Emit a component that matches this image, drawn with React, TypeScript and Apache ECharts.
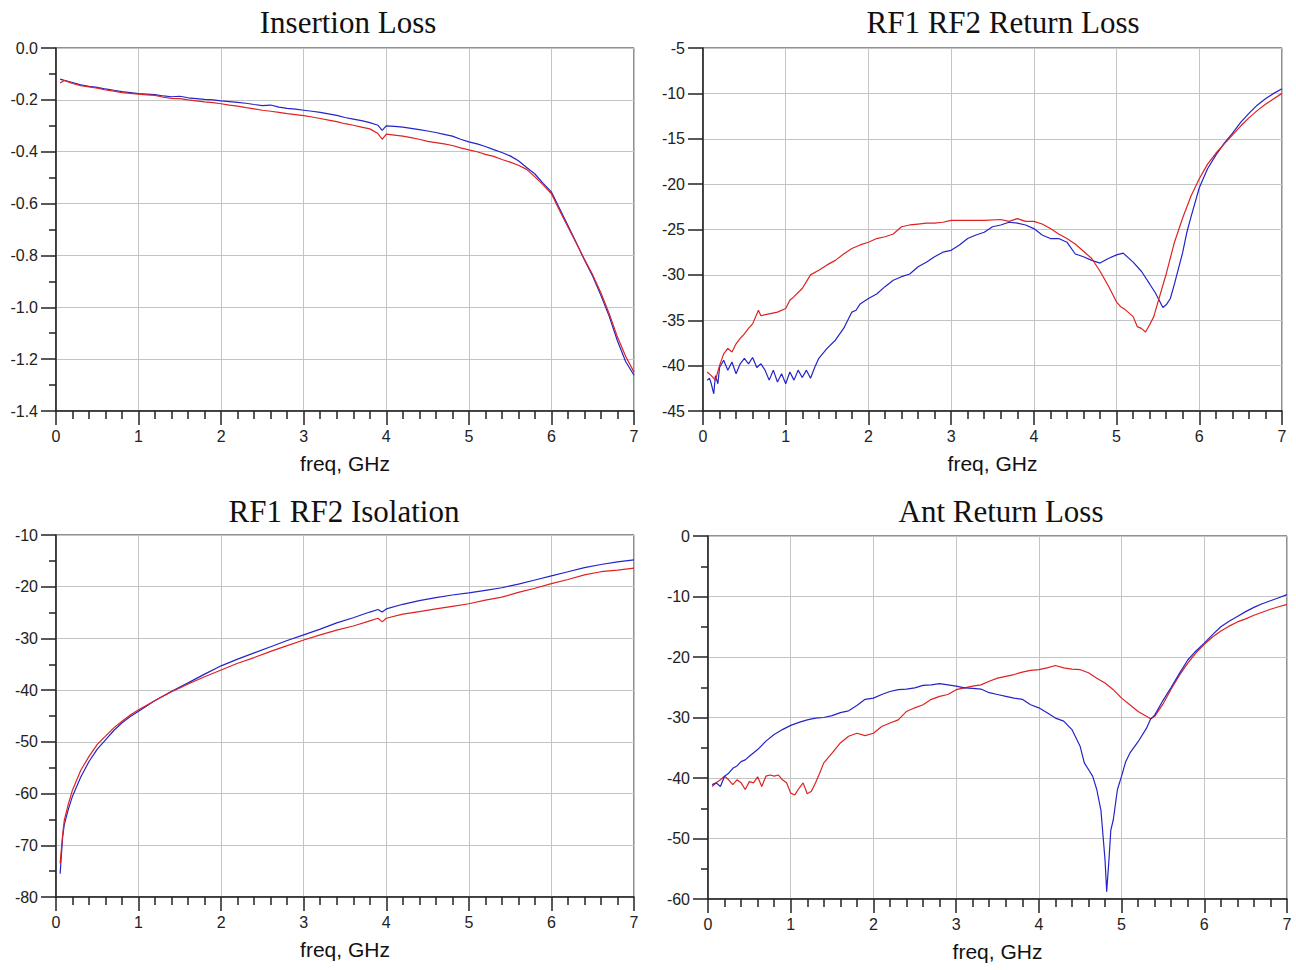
import React, { useEffect, useRef } from "react";
import * as echarts from "echarts";

// ---------- Insertion Loss (dB) ----------
const IL_FREQ = [0.05, 0.1, 0.2, 0.3, 0.4, 0.5, 0.6, 0.7, 0.8, 0.9, 1.0, 1.1, 1.2, 1.3, 1.4, 1.5, 1.6, 1.7, 1.8, 1.9, 2.0, 2.1, 2.2, 2.3, 2.4, 2.5, 2.6, 2.7, 2.8, 2.9, 3.0, 3.1, 3.2, 3.3, 3.4, 3.5, 3.6, 3.7, 3.8, 3.9, 3.95, 4.0, 4.1, 4.2, 4.3, 4.4, 4.5, 4.6, 4.7, 4.8, 4.9, 5.0, 5.1, 5.2, 5.3, 5.4, 5.5, 5.6, 5.7, 5.8, 5.9, 6.0, 6.1, 6.2, 6.3, 6.4, 6.5, 6.6, 6.7, 6.8, 6.9, 7.0];
const IL_BLUE = [-0.120, -0.125, -0.133, -0.142, -0.148, -0.152, -0.158, -0.163, -0.168, -0.172, -0.176, -0.178, -0.180, -0.185, -0.188, -0.186, -0.192, -0.195, -0.198, -0.200, -0.204, -0.207, -0.210, -0.213, -0.218, -0.222, -0.220, -0.228, -0.233, -0.236, -0.240, -0.244, -0.248, -0.254, -0.260, -0.268, -0.274, -0.280, -0.288, -0.298, -0.318, -0.300, -0.302, -0.305, -0.310, -0.315, -0.320, -0.326, -0.333, -0.340, -0.352, -0.362, -0.370, -0.380, -0.392, -0.403, -0.416, -0.435, -0.461, -0.486, -0.522, -0.555, -0.620, -0.685, -0.750, -0.818, -0.880, -0.955, -1.035, -1.130, -1.210, -1.262];
const IL_RED = [-0.135, -0.125, -0.137, -0.145, -0.150, -0.155, -0.162, -0.166, -0.172, -0.175, -0.178, -0.181, -0.183, -0.190, -0.194, -0.195, -0.200, -0.204, -0.208, -0.211, -0.215, -0.220, -0.224, -0.230, -0.235, -0.240, -0.244, -0.248, -0.253, -0.257, -0.261, -0.266, -0.272, -0.278, -0.284, -0.292, -0.298, -0.305, -0.312, -0.330, -0.352, -0.332, -0.336, -0.340, -0.346, -0.352, -0.360, -0.365, -0.370, -0.376, -0.385, -0.393, -0.400, -0.410, -0.418, -0.430, -0.440, -0.452, -0.468, -0.497, -0.528, -0.562, -0.628, -0.690, -0.752, -0.815, -0.875, -0.945, -1.025, -1.115, -1.190, -1.250];

// ---------- RF1 RF2 Return Loss (dB) ----------
const RL_RED_FREQ = [0.05, 0.1, 0.15, 0.2, 0.25, 0.3, 0.35, 0.4, 0.45, 0.5, 0.55, 0.6, 0.67, 0.7, 0.8, 0.9, 1.0, 1.05, 1.1, 1.2, 1.3, 1.4, 1.5, 1.6, 1.7, 1.8, 1.9, 2.0, 2.1, 2.2, 2.3, 2.4, 2.5, 2.6, 2.7, 2.8, 2.9, 3.0, 3.2, 3.4, 3.6, 3.7, 3.8, 3.9, 4.0, 4.1, 4.2, 4.3, 4.4, 4.5, 4.6, 4.7, 4.8, 4.9, 5.0, 5.05, 5.1, 5.2, 5.25, 5.3, 5.35, 5.4, 5.45, 5.5, 5.6, 5.7, 5.8, 5.9, 6.0, 6.1, 6.2, 6.3, 6.4, 6.5, 6.6, 6.7, 6.8, 6.9, 7.0];
const RL_RED = [-40.7, -41.1, -41.6, -40.0, -38.7, -38.1, -38.5, -37.6, -37.0, -36.5, -35.9, -35.4, -33.9, -34.5, -34.3, -34.1, -33.7, -32.8, -32.4, -31.5, -30.0, -29.5, -28.9, -28.4, -27.7, -27.1, -26.7, -26.4, -26.0, -25.8, -25.5, -24.7, -24.5, -24.4, -24.3, -24.3, -24.2, -24.0, -24.0, -24.0, -23.9, -24.1, -23.8, -24.1, -24.1, -24.4, -24.9, -25.5, -26.0, -26.6, -27.4, -28.2, -29.6, -31.2, -33.0, -33.5, -33.8, -34.6, -35.7, -35.9, -36.3, -35.5, -34.6, -33.0, -29.9, -26.4, -23.7, -21.3, -19.4, -17.8, -16.6, -15.6, -14.6, -13.6, -12.7, -11.9, -11.2, -10.6, -10.0];
const RL_BLUE_FREQ = [0.05, 0.08, 0.1, 0.13, 0.15, 0.18, 0.2, 0.25, 0.3, 0.35, 0.4, 0.45, 0.5, 0.55, 0.6, 0.65, 0.7, 0.75, 0.8, 0.85, 0.9, 0.95, 1.0, 1.05, 1.1, 1.15, 1.2, 1.25, 1.3, 1.35, 1.4, 1.5, 1.6, 1.7, 1.75, 1.8, 1.85, 1.9, 2.0, 2.1, 2.2, 2.3, 2.4, 2.5, 2.6, 2.7, 2.8, 2.9, 3.0, 3.1, 3.2, 3.3, 3.4, 3.5, 3.6, 3.7, 3.8, 3.9, 4.0, 4.1, 4.2, 4.3, 4.4, 4.5, 4.6, 4.7, 4.8, 4.9, 5.0, 5.08, 5.2, 5.3, 5.4, 5.47, 5.56, 5.6, 5.65, 5.7, 5.8, 5.85, 5.9, 6.0, 6.1, 6.2, 6.3, 6.4, 6.5, 6.6, 6.7, 6.8, 6.9, 7.0];
const RL_BLUE = [-41.6, -41.4, -42.0, -43.1, -41.1, -42.0, -40.2, -39.4, -40.5, -39.6, -40.9, -39.8, -39.2, -39.8, -39.1, -40.2, -39.8, -40.5, -41.6, -40.5, -41.8, -40.9, -42.0, -40.7, -41.6, -40.5, -41.3, -40.5, -41.4, -40.2, -39.2, -38.1, -37.2, -35.9, -35.0, -34.1, -33.9, -33.2, -32.6, -32.1, -31.3, -30.6, -30.2, -29.9, -29.1, -28.6, -28.0, -27.5, -27.3, -26.7, -26.0, -25.6, -25.3, -24.7, -24.5, -24.2, -24.3, -24.5, -24.9, -25.6, -26.0, -26.0, -26.4, -27.7, -28.0, -28.4, -28.7, -28.2, -27.8, -27.6, -28.6, -29.6, -31.0, -32.0, -33.6, -33.3, -32.6, -31.0, -27.5, -25.3, -23.6, -20.4, -18.3, -16.8, -15.5, -14.4, -13.2, -12.2, -11.3, -10.6, -10.0, -9.5];

// ---------- RF1 RF2 Isolation (dB) ----------
const ISO_FREQ = [0.05, 0.08, 0.1, 0.15, 0.2, 0.3, 0.4, 0.5, 0.6, 0.7, 0.8, 0.9, 1.0, 1.2, 1.4, 1.5, 1.6, 1.8, 2.0, 2.2, 2.4, 2.6, 2.8, 3.0, 3.2, 3.4, 3.6, 3.8, 3.9, 3.95, 4.0, 4.2, 4.4, 4.6, 4.8, 5.0, 5.2, 5.4, 5.6, 5.8, 6.0, 6.2, 6.4, 6.6, 6.8, 7.0];
const ISO_BLUE = [-75.5, -68.5, -66.0, -63.0, -60.5, -56.8, -53.8, -51.4, -49.6, -47.8, -46.3, -45.1, -44.1, -42.0, -40.2, -39.4, -38.6, -36.9, -35.3, -34.0, -32.8, -31.6, -30.4, -29.3, -28.2, -27.0, -26.0, -24.9, -24.4, -24.9, -24.3, -23.4, -22.7, -22.1, -21.6, -21.2, -20.7, -20.2, -19.5, -18.7, -17.9, -17.1, -16.3, -15.7, -15.2, -14.8];
const ISO_RED = [-73.5, -68.0, -65.2, -62.0, -59.3, -55.5, -52.8, -50.5, -48.9, -47.3, -46.0, -44.8, -43.8, -42.0, -40.3, -39.6, -38.8, -37.4, -36.1, -34.8, -33.7, -32.5, -31.4, -30.3, -29.3, -28.4, -27.6, -26.6, -26.1, -26.8, -26.1, -25.3, -24.8, -24.3, -23.8, -23.3, -22.6, -22.0, -21.1, -20.3, -19.4, -18.6, -17.7, -17.1, -16.8, -16.4];

// ---------- Ant Return Loss (dB) ----------
const ANT_BLUE_FREQ = [0.05, 0.1, 0.15, 0.2, 0.25, 0.3, 0.35, 0.4, 0.45, 0.5, 0.6, 0.7, 0.8, 0.9, 1.0, 1.1, 1.2, 1.3, 1.4, 1.5, 1.6, 1.7, 1.8, 1.9, 2.0, 2.1, 2.2, 2.3, 2.4, 2.5, 2.6, 2.7, 2.8, 2.9, 3.0, 3.1, 3.2, 3.3, 3.4, 3.5, 3.6, 3.7, 3.8, 3.9, 4.0, 4.1, 4.2, 4.3, 4.4, 4.5, 4.55, 4.6, 4.65, 4.7, 4.75, 4.8, 4.82, 4.85, 4.87, 4.9, 4.95, 5.0, 5.05, 5.1, 5.2, 5.3, 5.35, 5.4, 5.5, 5.6, 5.7, 5.8, 5.9, 6.0, 6.1, 6.2, 6.3, 6.4, 6.5, 6.6, 6.7, 6.8, 6.9, 7.0];
const ANT_BLUE = [-41.1, -40.8, -41.4, -39.7, -39.2, -38.4, -38.0, -37.3, -37.0, -36.4, -35.3, -33.9, -32.8, -32.0, -31.3, -30.8, -30.4, -30.1, -30.0, -29.7, -29.2, -28.9, -28.0, -27.0, -26.8, -26.2, -25.7, -25.4, -25.3, -25.1, -24.7, -24.6, -24.4, -24.6, -24.8, -25.1, -25.2, -25.3, -25.9, -26.2, -26.5, -26.8, -27.0, -27.9, -28.4, -29.2, -30.1, -30.6, -32.0, -34.8, -37.5, -38.6, -39.7, -41.9, -45.3, -53.5, -58.8, -53.0, -48.6, -46.9, -41.9, -39.7, -37.3, -35.9, -34.0, -31.8, -30.3, -29.6, -27.2, -25.0, -22.7, -20.5, -19.0, -17.7, -16.3, -15.0, -14.1, -13.3, -12.5, -11.8, -11.2, -10.7, -10.2, -9.7];
const ANT_RED_FREQ = [0.05, 0.1, 0.15, 0.2, 0.25, 0.3, 0.35, 0.4, 0.45, 0.5, 0.55, 0.6, 0.65, 0.7, 0.75, 0.8, 0.85, 0.9, 0.95, 1.0, 1.05, 1.1, 1.15, 1.2, 1.25, 1.3, 1.35, 1.4, 1.5, 1.6, 1.7, 1.8, 1.9, 2.0, 2.1, 2.2, 2.3, 2.4, 2.5, 2.6, 2.7, 2.8, 2.9, 3.0, 3.1, 3.2, 3.3, 3.4, 3.5, 3.6, 3.7, 3.8, 3.9, 4.0, 4.1, 4.2, 4.3, 4.4, 4.5, 4.6, 4.7, 4.8, 4.9, 5.0, 5.1, 5.2, 5.3, 5.35, 5.4, 5.5, 5.6, 5.7, 5.8, 5.9, 6.0, 6.1, 6.2, 6.3, 6.4, 6.5, 6.6, 6.7, 6.8, 6.9, 7.0];
const ANT_RED = [-41.4, -40.8, -40.3, -39.7, -40.3, -41.1, -40.3, -40.8, -41.9, -40.6, -40.8, -39.8, -41.4, -39.7, -39.5, -39.7, -39.5, -40.3, -40.8, -42.5, -42.8, -41.7, -40.8, -42.6, -42.2, -40.8, -39.2, -37.5, -35.9, -34.2, -33.1, -32.6, -33.0, -32.6, -31.5, -30.9, -30.4, -29.0, -28.4, -27.9, -27.0, -26.5, -26.2, -25.4, -25.1, -24.8, -24.6, -24.0, -23.5, -23.2, -22.9, -22.5, -22.2, -22.1, -21.8, -21.4, -21.8, -22.0, -22.1, -22.6, -23.5, -24.3, -25.4, -26.8, -27.9, -29.0, -29.8, -30.2, -29.8, -27.8, -25.3, -23.0, -21.0, -19.3, -17.9, -16.7, -15.7, -14.9, -14.2, -13.7, -13.1, -12.6, -12.1, -11.7, -11.3];

const TITLES = ["Insertion Loss", "RF1 RF2 Return Loss", "RF1 RF2 Isolation", "Ant Return Loss"];
const X_NAME = "freq, GHz";
const Y_RANGES = [
  { min: -1.4, max: 0, interval: 0.2, minor: true, digits: 1 },
  { min: -45, max: -5, interval: 5, minor: false, digits: 0 },
  { min: -80, max: -10, interval: 10, minor: true, digits: 0 },
  { min: -60, max: 0, interval: 10, minor: true, digits: 0 },
];

const RED = "#de2222";
const BLUE = "#2424c8";
const INK = "#222222";

const zip = (xs: number[], ys: number[]) => xs.map((x, i) => [x, ys[i]]);

export default function App() {
  const ref = useRef<HTMLDivElement>(null);

  useEffect(() => {
    if (!ref.current) return;
    const chart = echarts.init(ref.current, null, { renderer: "svg" });

    const grids = [
      { left: 56, top: 48, width: 578, height: 363 },
      { left: 703, top: 48, width: 579, height: 363 },
      { left: 56, top: 535, width: 578, height: 362 },
      { left: 708, top: 536, width: 579, height: 363 },
    ];
    const titleCenters = [
      [348, 22],
      [1003, 22],
      [344, 511],
      [1001, 511],
    ];

    const xAxes = grids.map((_, i) => ({
      type: "value",
      gridIndex: i,
      min: 0,
      max: 7,
      interval: 1,
      name: X_NAME,
      nameLocation: "middle",
      nameGap: 42,
      nameTextStyle: { fontFamily: "Liberation Sans", fontSize: 21, color: "#111" },
      axisLine: { show: true, onZero: false, lineStyle: { color: INK, width: 1.5 } },
      axisTick: { show: true, inside: false, length: 14, lineStyle: { color: INK, width: 1.5 } },
      minorTick: { show: true, splitNumber: 5, length: 8, lineStyle: { color: INK, width: 1.5 } },
      splitLine: { show: true, lineStyle: { color: "#c4c4c4", width: 1 } },
      axisLabel: { fontFamily: "Liberation Sans", fontSize: 16, color: INK, margin: 17 },
    }));

    const yAxes = grids.map((_, i) => {
      const r = Y_RANGES[i];
      return {
        type: "value",
        gridIndex: i,
        min: r.min,
        max: r.max,
        interval: r.interval,
        axisLine: { show: true, onZero: false, lineStyle: { color: INK, width: 1.5 } },
        axisTick: { show: true, inside: false, length: 15, lineStyle: { color: INK, width: 1.5 } },
        minorTick: { show: r.minor, splitNumber: 2, length: 7, lineStyle: { color: INK, width: 1.5 } },
        splitLine: { show: true, lineStyle: { color: "#c4c4c4", width: 1 } },
        axisLabel: {
          fontFamily: "Liberation Sans",
          fontSize: 16,
          color: INK,
          margin: 18,
          formatter: (v: number) => v.toFixed(r.digits),
        },
      };
    });

    const line = (name: string, idx: number, data: number[][], color: string) => ({
      type: "line",
      name,
      xAxisIndex: idx,
      yAxisIndex: idx,
      data,
      showSymbol: false,
      symbol: "none",
      smooth: false,
      lineStyle: { color, width: 1.2 },
      itemStyle: { color },
    });

    chart.setOption({
      animation: false,
      backgroundColor: "#ffffff",
      grid: grids.map((g) => ({ ...g, show: true, borderColor: INK, borderWidth: 1, backgroundColor: "transparent" })),
      xAxis: xAxes,
      yAxis: yAxes,
      graphic: TITLES.map((t, i) => ({
        type: "text",
        x: titleCenters[i][0],
        y: titleCenters[i][1],
        style: {
          text: t,
          fontFamily: "Liberation Serif",
          fontSize: 31,
          fill: "#111",
          align: "center",
          verticalAlign: "middle",
          textAlign: "center",
          textVerticalAlign: "middle",
        },
      })),
      series: [
        line("IL blue", 0, zip(IL_FREQ, IL_BLUE), BLUE),
        line("IL red", 0, zip(IL_FREQ, IL_RED), RED),
        line("RL blue", 1, zip(RL_BLUE_FREQ, RL_BLUE), BLUE),
        line("RL red", 1, zip(RL_RED_FREQ, RL_RED), RED),
        line("ISO blue", 2, zip(ISO_FREQ, ISO_BLUE), BLUE),
        line("ISO red", 2, zip(ISO_FREQ, ISO_RED), RED),
        line("ANT red", 3, zip(ANT_RED_FREQ, ANT_RED), RED),
        line("ANT blue", 3, zip(ANT_BLUE_FREQ, ANT_BLUE), BLUE),
      ],
    });

    return () => chart.dispose();
  }, []);

  return (
    <div
      ref={ref}
      style={{ position: "fixed", left: 0, top: 0, width: 1296, height: 970, background: "#fff" }}
    />
  );
}
